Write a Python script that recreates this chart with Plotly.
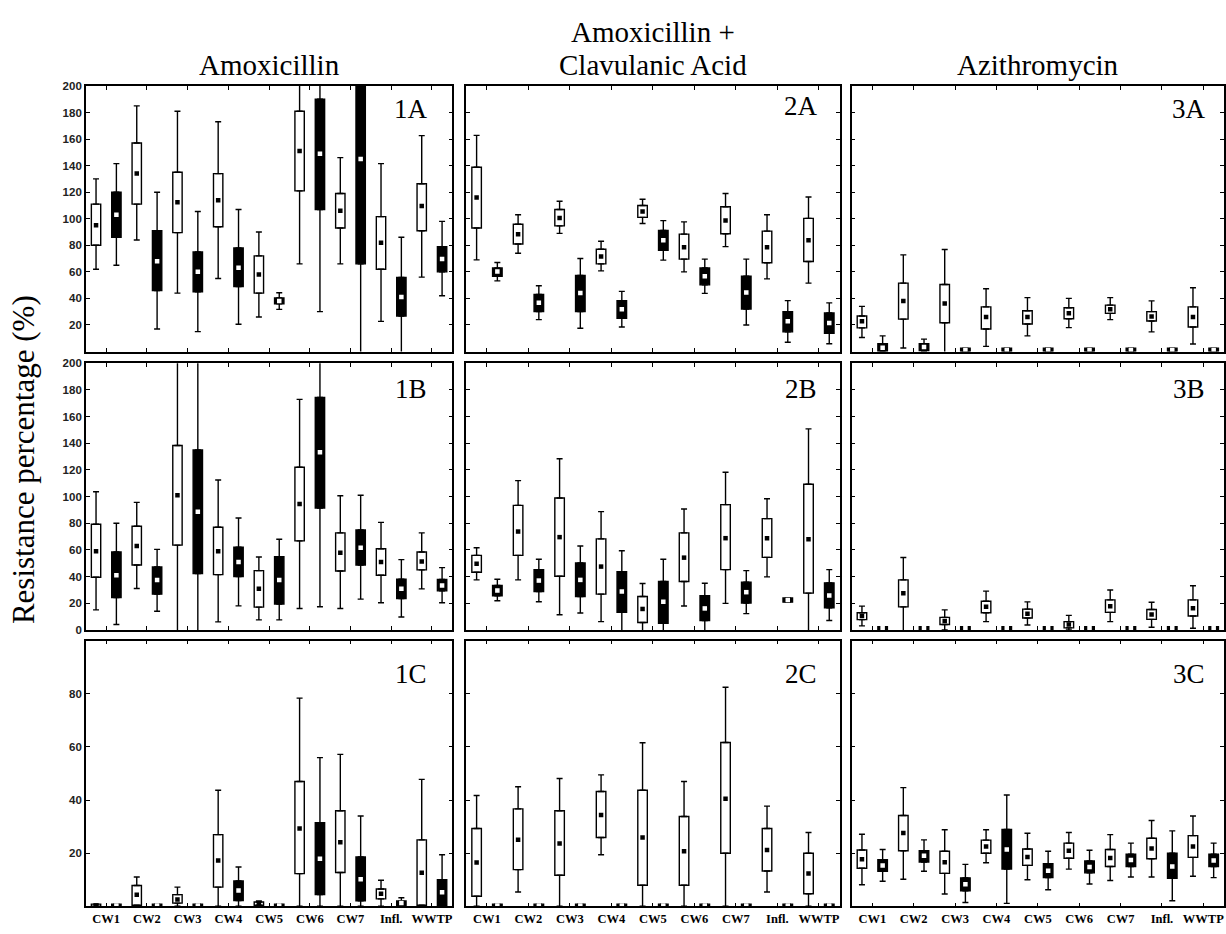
import plotly.graph_objects as go

# ---------------- data ----------------
CATEGORIES = ["CW1", "CW2", "CW3", "CW4", "CW5", "CW6", "CW7", "Infl.", "WWTP"]
COLUMN_TITLES = ["Amoxicillin", "Amoxicillin +", "Clavulanic Acid", "Azithromycin"]
PANEL_LABELS = ["1A", "2A", "3A", "1B", "2B", "3B", "1C", "2C", "3C"]

# each entry: (lower whisker, q1, median, q3, upper whisker), one per category
AMX_A_OPEN = [(62, 80, 95, 111, 130), (84, 111, 134, 157, 185), (44, 89.5, 112.5, 135, 181),
              (55, 94, 114, 134, 173), (26, 44, 58, 72, 90), (66, 121, 151, 181, 215),
              (66, 93, 106, 119, 146), (22.7, 62, 82, 101.6, 141.5), (56, 91, 109.5, 126.4, 162.6)]
AMX_A_FILLED = [(65, 86, 103, 120, 141.5), (17, 46, 68, 91, 120), (15, 45, 60, 75, 105.5),
                (20.5, 49, 63, 78, 107), (31.7, 36, 38, 40.3, 44.3), (30, 107, 149, 190, 230),
                (-20, 66, 145, 230, 260), (-2, 26.7, 41, 55.7, 86), (42, 60, 69.6, 79, 98)]
AMX_B_OPEN = [(15, 39.5, 59, 79.3, 103.6), (31, 48.7, 62.9, 77.8, 95.7), (-5, 63.6, 101, 138.4, 230),
              (6, 41.5, 59, 77, 112.5), (7.5, 17.1, 30.8, 44.5, 54.7), (16, 66.8, 94.4, 122, 173),
              (16, 44.2, 57.9, 72.8, 100.6), (20.4, 41, 51, 60.9, 80.7), (30.8, 45, 51.4, 58.4, 72.8)]
AMX_B_FILLED = [(4, 24.3, 41, 58.4, 80), (14, 26.8, 37.5, 47.2, 60.4), (-5, 42.2, 88.7, 135, 230),
                (18, 40, 51, 62, 84), (7.5, 19.4, 37.5, 55, 68), (17.4, 91.4, 133.2, 174.4, 230),
                (23.1, 48.7, 61.6, 75, 101), (9.7, 23.6, 30.8, 38, 52.7), (20.4, 29.3, 33.3, 37.8, 46.7)]
AMX_C_OPEN = [(0, 0, 0.3, 0.8, 0.8), (0, 0.4, 4.3, 7.8, 11), (0, 1.2, 2.6, 4.4, 7.2),
              (0, 7.2, 17.2, 27, 43.7), (0, 0.4, 1, 1.6, 2), (0, 12.3, 29.3, 47, 78.4),
              (0, 12.7, 24.1, 36, 57.2), (0, 2.8, 4.7, 6.5, 9.8), (0, 0.4, 12.6, 25, 47.8)]
AMX_C_FILLED = [(0, 0, 0.3, 0.8, 0.8), (0, 0, 0.3, 0.8, 0.8), (0, 0, 0.3, 0.8, 0.8),
                (0, 2.2, 5.9, 9.5, 14.8), (0, 0, 0.3, 0.8, 0.8), (0, 4.4, 17.9, 31.5, 56),
                (0, 2.1, 10.2, 18.6, 34), (0, 0.4, 1.2, 2, 3.2), (0, 0.4, 5.3, 10, 19.4)]

AMC_A_OPEN = [(69, 93, 116, 138.8, 162.8), (74, 81, 88.4, 95.9, 103), (89, 94.6, 100.6, 107, 113.2),
              (60.7, 66, 71.6, 77, 83), (96.4, 101, 105.5, 110, 114.7), (60, 69.6, 78.5, 88.4, 97.6),
              (79, 88.7, 98.6, 109, 119), (54.7, 66.8, 78.5, 90.7, 103), (51.5, 67.8, 83.7, 100.3, 116.4)]
AMC_A_FILLED = [(53.2, 56.7, 60.2, 62.9, 67), (24, 30, 36.8, 43, 49.5), (17.5, 30, 44, 57.2, 70),
                (18.5, 25, 31.9, 38.3, 45.3), (68.8, 76.3, 83.7, 91.1, 98.6), (43.8, 50.2, 56.7, 62.9, 69.6),
                (20, 32, 44.5, 56.7, 69.6), (7, 14.8, 22.7, 30, 38.3), (5.8, 13.8, 21.5, 29, 36.6)]
AMC_B_OPEN = [(37.5, 43.2, 49.7, 55.9, 61.6), (37.5, 55.9, 73.8, 93.4, 112), (11.4, 40.2, 69.6, 99, 128.4),
              (6.2, 26.8, 47.5, 68.3, 88.7), (-2, 5.5, 15.7, 25.1, 34.8), (17.9, 36.3, 54.2, 72.8, 90.7),
              (19.9, 45.2, 68.8, 94, 118.3), (39.8, 54.4, 68.8, 83.5, 98.4), (-5, 27.6, 68, 109.3, 150.8)]
AMC_B_FILLED = [(21.9, 25.6, 29.6, 33.3, 38), (21.1, 28.8, 37, 45.2, 53), (12.7, 25.1, 37.5, 50.2, 62.9),
                (-5, 13.2, 28.8, 43.7, 59.4), (-5, 5, 21.1, 36.3, 53), (-5, 7, 16.1, 25.6, 35),
                (12.2, 20.1, 28.3, 35.8, 44.5), (20.8, 20.8, 22.4, 24, 24), (7, 16.6, 25.8, 35.3, 45.2)]
AMC_C_OPEN = [(0, 3.8, 16.5, 29.3, 41.7), (5.4, 13.8, 25.1, 36.7, 45), (0, 11.7, 23.6, 36, 48.1),
              (19.4, 25.9, 34.4, 43.2, 49.5), (0, 7.9, 25.9, 43.7, 61.6), (0, 7.9, 20.7, 33.8, 47),
              (0, 20, 40.5, 61.7, 82.5), (5.4, 13.3, 21.2, 29.3, 37.7), (0, 4.7, 12.3, 20, 27.8)]
AMC_C_FILLED = [(0, 0, 0.3, 0.8, 0.8)] * 9

AZM_A_OPEN = [(10.6, 17.8, 22.7, 26.7, 34), (2.6, 24.4, 38.1, 51.5, 72.8), (-3, 21.7, 36.1, 50.5, 76.8),
              (3.9, 17, 26, 33.6, 47.3), (11.8, 20.7, 26, 30.7, 40.6), (18, 24.7, 28.9, 33, 40),
              (24, 28.7, 31.9, 34.9, 40.6), (14.8, 23, 26.4, 30, 38.1), (5.6, 18.5, 26, 33.6, 48)]
AZM_A_FILLED = [(0, 0.1, 2.9, 5.9, 11.8), (0, 0.6, 3.4, 5.9, 9.3), (0, 0, 1.2, 2.4, 2.4),
                (0, 0, 1.2, 2.4, 2.4), (0, 0, 1.2, 2.4, 2.4), (0, 0, 1.2, 2.4, 2.4),
                (0, 0, 1.2, 2.4, 2.4), (0, 0, 1.2, 2.4, 2.4), (0, 0, 1.2, 2.4, 2.4)]
AZM_B_OPEN = [(3, 7.7, 10.4, 12.8, 17.8), (-2, 17.3, 27.4, 37.5, 54.3), (0, 4, 6.7, 9.4, 15),
              (6.2, 12.8, 17.3, 21.5, 29.1), (3.7, 8.9, 12.1, 15.6, 21), (0, 1.5, 4, 6.2, 10.9),
              (6.2, 13.1, 17.8, 22.5, 29.9), (2, 7.9, 11.6, 15.3, 20.7), (1.2, 10.4, 16.3, 22.5, 33.1)]
AZM_B_FILLED = [(0, 0, 1.2, 2.4, 2.4)] * 9
AZM_C_OPEN = [(8.1, 14.3, 17.7, 21.2, 27.1), (10.2, 20.9, 27.6, 34.2, 44.7), (4.6, 12.4, 16.6, 20.7, 28.8),
              (16.4, 20, 22.5, 24.9, 28.8), (10, 15.4, 18.6, 21.6, 27.5), (14, 18.1, 20.9, 23.8, 27.8),
              (9.7, 15, 18.2, 21.4, 27), (11, 17.9, 21.8, 25.6, 32.3), (11.3, 18.4, 22.5, 26.6, 34)]
AZM_C_FILLED = [(9.4, 13.2, 15.4, 17.5, 21.4), (13.2, 16.7, 19, 20.9, 25), (1.4, 5.8, 8.3, 10.7, 15.8),
                (1.1, 14, 21.4, 28.9, 41.9), (6.2, 10.8, 13.4, 16, 20.7), (8.4, 12.6, 14.8, 17.1, 21.1),
                (11, 15, 17.4, 19.6, 23.8), (2.1, 10.5, 15, 20, 28.4), (10.8, 15, 17.2, 19.6, 23.8)]

ROW_RANGES = [[0, 200], [0, 200], [0, 100]]
ROW_TICKS = [list(range(20, 201, 20)), list(range(0, 201, 20)), [20, 40, 60, 80]]

PANELS = [
    [(AMX_A_OPEN, AMX_A_FILLED), (AMC_A_OPEN, AMC_A_FILLED), (AZM_A_OPEN, AZM_A_FILLED)],
    [(AMX_B_OPEN, AMX_B_FILLED), (AMC_B_OPEN, AMC_B_FILLED), (AZM_B_OPEN, AZM_B_FILLED)],
    [(AMX_C_OPEN, AMX_C_FILLED), (AMC_C_OPEN, AMC_C_FILLED), (AZM_C_OPEN, AZM_C_FILLED)],
]

# ---------------- layout geometry (pixels) ----------------
W, H = 1226, 934
COLS_PX = [(86, 453), (467, 841), (853, 1226)]
ROWS_PX = [(81, 350), (362, 632), (643, 912)]
LABEL_POS = [(412, 104), (802, 101), (1191, 104),
             (412, 388), (802, 388), (1191, 388),
             (412, 677), (802, 677), (1191, 677)]


def fx(px):
    return px / W


def fy(py):
    return 1 - py / H


SERIF = "Liberation Serif"
SANS = "Liberation Sans"
LW = 1.4

fig = go.Figure()
layout_axes = {}

for r in range(3):
    for c in range(3):
        k = r * 3 + c + 1
        xa = "x" if k == 1 else f"x{k}"
        ya = "y" if k == 1 else f"y{k}"
        xkey = "xaxis" if k == 1 else f"xaxis{k}"
        ykey = "yaxis" if k == 1 else f"yaxis{k}"
        open_stats, filled_stats = PANELS[r][c]
        for stats, offset, fill, medcol in ((open_stats, -0.25, "white", "black"),
                                            (filled_stats, 0.25, "black", "white")):
            xs = [i + offset for i in range(len(CATEGORIES))]
            lo = [s[0] for s in stats]
            q1 = [s[1] for s in stats]
            med = [s[2] for s in stats]
            q3 = [s[3] for s in stats]
            hi = [s[4] for s in stats]
            fig.add_trace(go.Bar(
                x=xs, y=[b - a for a, b in zip(q1, q3)], base=q1, width=0.23,
                marker=dict(color=fill, line=dict(color="black", width=LW)),
                xaxis=xa, yaxis=ya, showlegend=False, hoverinfo="skip"))
            fig.add_trace(go.Scatter(
                x=xs, y=q3, mode="markers",
                marker=dict(size=1, color="rgba(0,0,0,0)"),
                error_y=dict(type="data", symmetric=False,
                             array=[b - a for a, b in zip(q3, hi)],
                             arrayminus=[0] * len(xs), width=3, thickness=LW, color="black"),
                xaxis=xa, yaxis=ya, showlegend=False, hoverinfo="skip"))
            fig.add_trace(go.Scatter(
                x=xs, y=q1, mode="markers",
                marker=dict(size=1, color="rgba(0,0,0,0)"),
                error_y=dict(type="data", symmetric=False,
                             array=[0] * len(xs),
                             arrayminus=[a - b for a, b in zip(q1, lo)], width=3, thickness=LW,
                             color="black"),
                xaxis=xa, yaxis=ya, showlegend=False, hoverinfo="skip"))
            fig.add_trace(go.Scatter(
                x=xs, y=med, mode="markers",
                marker=dict(symbol="square", size=4.5, color=medcol, line=dict(width=0)),
                xaxis=xa, yaxis=ya, showlegend=False, hoverinfo="skip"))

        x0, x1 = COLS_PX[c]
        y0, y1 = ROWS_PX[r]
        layout_axes[xkey] = dict(
            domain=[fx(x0), fx(x1)], anchor=ya, range=[-0.5, 8.5],
            tickmode="array", tickvals=list(range(9)), ticktext=CATEGORIES,
            showticklabels=(r == 2), ticks="inside", ticklen=4, tickwidth=1.2,
            tickcolor="black", showline=True, linecolor="black", linewidth=1.5,
            mirror="allticks", showgrid=False, zeroline=False, fixedrange=True,
            tickfont=dict(family=SERIF, size=12.5, color="black", weight="bold"))
        layout_axes[ykey] = dict(
            domain=[fy(y1), fy(y0)], anchor=xa, range=ROW_RANGES[r],
            tickmode="array", tickvals=ROW_TICKS[r],
            showticklabels=(c == 0), ticks="inside", ticklen=4, tickwidth=1.2,
            tickcolor="black", showline=True, linecolor="black", linewidth=1.5,
            mirror="allticks", showgrid=False, zeroline=False, fixedrange=True,
            tickfont=dict(family=SANS, size=11.5, color="#222", weight="bold"))

annotations = []
title_pos = [((86 + 453) / 2, 60), ((467 + 841) / 2, 26), ((467 + 841) / 2, 60), ((853 + 1226) / 2, 60)]
for t, (px, py) in zip(COLUMN_TITLES, title_pos):
    annotations.append(dict(text=t, x=fx(px), y=fy(py), xref="paper", yref="paper",
                            xanchor="center", yanchor="middle", showarrow=False,
                            font=dict(family=SERIF, size=29, color="black")))
for lab, (px, py) in zip(PANEL_LABELS, LABEL_POS):
    annotations.append(dict(text=lab, x=fx(px), y=fy(py), xref="paper", yref="paper",
                            xanchor="center", yanchor="middle", showarrow=False,
                            font=dict(family=SERIF, size=27, color="black")))
annotations.append(dict(text="Resistance percentage (%)", x=fx(23), y=fy(459),
                        xref="paper", yref="paper", xanchor="center", yanchor="middle",
                        textangle=-90, showarrow=False,
                        font=dict(family=SERIF, size=31, color="black")))

fig.update_layout(
    width=W, height=H, margin=dict(l=0, r=0, t=0, b=0),
    paper_bgcolor="white", plot_bgcolor="white",
    barmode="overlay", showlegend=False, annotations=annotations,
    **layout_axes)

fig.write_html("out.html", config={"displayModeBar": False})
